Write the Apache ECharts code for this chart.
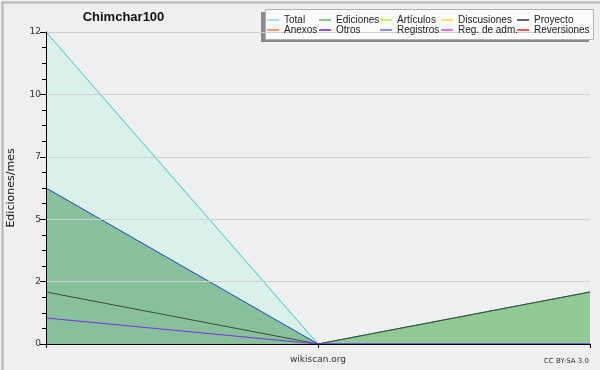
<!DOCTYPE html>
<html>
<head>
<meta charset="utf-8">
<script src="https://cdn.jsdelivr.net/npm/echarts@6/dist/echarts.min.js"></script>
<style>
html,body{margin:0;padding:0;background:#eeeff0;}
#c{width:600px;height:370px;}
</style>
</head>
<body>
<div id="c"></div>
<script>
// ---- data ----
var categories = ['m1', 'm2', 'm3'];
var total = [12, 0, 2];
var ediciones = [6, 0, 2];
var articulos = [];
var discusiones = [];
var proyecto = [2, 0, 2];
var anexos = [];
var otros = [1, 0, 0];
var registros = [6, 0, 0];
var regAdm = [];
var reversiones = [];
var yTicks = [0, 2.4, 4.8, 7.2, 9.6, 12];

var titleText = 'Chimchar100';
var yName = 'Ediciones/mes';

var FONT = 'DejaVu Sans';
var LFONT = 'Liberation Sans';
function ln(name, data, color, extra) {
  var s = {
    name: name, type: 'line', data: data, symbol: 'none',
    lineStyle: { color: color, width: 1 }, itemStyle: { color: color },
    animation: false, z: 3
  };
  for (var k in extra) s[k] = extra[k];
  return s;
}
var series = [
  ln('Total', total, '#34c9c9', { areaStyle: { color: '#d9f1ea', opacity: 1 }, z: 1 }),
  ln('Ediciones', ediciones, '#4fae58', { areaStyle: { color: '#90c994', opacity: 1 }, z: 2 }),
  ln('Artículos', articulos, '#a8e030'),
  ln('Discusiones', discusiones, '#ffc820'),
  ln('Proyecto', proyecto, '#3c4a40'),
  ln('Anexos', anexos, '#ff7030'),
  ln('Otros', otros, '#7a30e8'),
  ln('Registros', registros, '#3a50e0', { areaStyle: { color: 'rgba(96,160,192,0.25)' }, z: 2 }),
  ln('Reg. de adm.', regAdm, '#d838e8'),
  ln('Reversiones', reversiones, '#ff2a2a')
];
var legendColors = {
  'Total': '#a8e6e6', 'Ediciones': '#88cc88', 'Artículos': '#c8ee70', 'Discusiones': '#ffdc70', 'Proyecto': '#666666',
  'Anexos': '#ff9660', 'Otros': '#9450ea', 'Registros': '#8a90f2', 'Reg. de adm.': '#e470f2', 'Reversiones': '#ff5050'
};

var cols = [
  { left: 267, names: ['Total', 'Anexos'] },
  { left: 319, names: ['Ediciones', 'Otros'] },
  { left: 380, names: ['Artículos', 'Registros'] },
  { left: 441, names: ['Discusiones', 'Reg. de adm.'] },
  { left: 517, names: ['Proyecto', 'Reversiones'] }
];
var legends = cols.map(function (c) {
  return {
    data: c.names.map(function (n) { return { name: n, itemStyle: { color: legendColors[n] } }; }),
    orient: 'vertical', left: c.left, top: 15, padding: 0,
    icon: 'rect', itemGap: 0, itemWidth: 12, itemHeight: 2, selectedMode: false, z: 20,
    textStyle: { fontFamily: LFONT, fontSize: 10, color: '#222', lineHeight: 10, height: 10 }
  };
});

var chart = echarts.init(document.getElementById('c'), null, { renderer: 'canvas' });
chart.setOption({
  backgroundColor: '#eeeff0',
  animation: false,
  legend: legends,
  grid: { left: 46, right: 10, top: 32, bottom: 26, containLabel: false, outerBoundsMode: 'none' },
  xAxis: {
    type: 'category', data: categories, boundaryGap: false, z: 10,
    axisLine: { lineStyle: { color: '#000', width: 1 } },
    axisTick: { show: true, length: 4, lineStyle: { color: '#000' } },
    axisLabel: { show: false },
    splitLine: { show: false }
  },
  yAxis: {
    type: 'value', min: yTicks[0], max: yTicks[yTicks.length - 1], interval: yTicks[1] - yTicks[0],
    name: yName, nameLocation: 'middle', nameGap: 29, nameRotate: 90, z: 10,
    nameTextStyle: { fontFamily: FONT, fontSize: 11, color: '#111' },
    axisLine: { show: true, lineStyle: { color: '#000', width: 1 } },
    axisTick: { show: true, length: 6, lineStyle: { color: '#000' } },
    minorTick: { show: true, splitNumber: 4, length: 4, lineStyle: { color: '#000' } },
    axisLabel: {
      fontFamily: FONT, fontSize: 9, color: '#333', margin: 5,
      formatter: function (v) { return String(Math.round(v)); }
    },
    splitLine: { show: true, lineStyle: { color: '#cfd0d2', width: 1 } }
  },
  series: series,
  graphic: [
    { type: 'rect', left: 0, top: 0, shape: { width: 599, height: 369 }, style: { fill: 'none', stroke: '#b4b4b4', lineWidth: 2 }, silent: true, z: 100 },
    { type: 'rect', shape: { x: 261, y: 12, width: 328, height: 30 }, style: { fill: '#8a8a8a' }, z: 5 },
    { type: 'rect', shape: { x: 265.5, y: 9.5, width: 328, height: 30 }, style: { fill: '#fbfbfb', stroke: '#b0b0b0', lineWidth: 1 }, z: 6 },
    { type: 'text', x: 123.5, y: 17, style: { text: titleText, fontFamily: LFONT, fontWeight: 'bold', fontSize: 13, fill: '#111', align: 'center', verticalAlign: 'middle' }, z: 10 },
    { type: 'text', x: 318, y: 360, style: { text: 'wikiscan.org', fontFamily: FONT, fontSize: 9, fill: '#333', align: 'center', verticalAlign: 'middle' }, z: 10 },
    { type: 'text', x: 589, y: 361, style: { text: 'CC BY-SA 3.0', fontFamily: FONT, fontSize: 7, fill: '#333', align: 'right', verticalAlign: 'middle' }, z: 10 }
  ]
});
</script>
</body>
</html>
